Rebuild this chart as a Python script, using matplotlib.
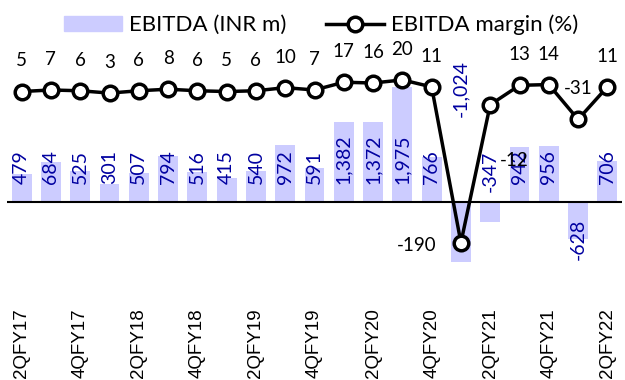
import matplotlib
matplotlib.use("Agg")
import matplotlib.pyplot as plt
from matplotlib.lines import Line2D
from matplotlib.patches import Patch

# quarterly data, 2QFY17 .. 2QFY22
quarters = ["2QFY17", "3QFY17", "4QFY17", "1QFY18", "2QFY18", "3QFY18", "4QFY18",
            "1QFY19", "2QFY19", "3QFY19", "4QFY19", "1QFY20", "2QFY20", "3QFY20",
            "4QFY20", "1QFY21", "2QFY21", "3QFY21", "4QFY21", "1QFY22", "2QFY22"]
ebitda = [479, 684, 525, 301, 507, 794, 516, 415, 540, 972, 591, 1382, 1372, 1975,
          766, -1024, -347, 942, 956, -628, 706]
margin = [5, 7, 6, 3, 6, 8, 6, 5, 6, 10, 7, 17, 16, 20, 11, -190, -12, 13, 14, -31, 11]

BAR_COLOR = "#CCCCFF"
LABEL_BLUE = "#0000A0"
NUM_FONT = ["Lato", "DejaVu Sans"]

fig = plt.figure(figsize=(6.25, 3.8), dpi=100)
# axes box in pixels: left 7, right 622, top 40, bottom 300
ax = fig.add_axes([7 / 625, 80 / 380, 615 / 625, 260 / 380])
ax2 = ax.twinx()

x = list(range(len(quarters)))
ax.bar(x, ebitda, width=0.68, color=BAR_COLOR, zorder=1)
ax.axhline(0, color="black", lw=1.5, zorder=2)
ax.set_xlim(-0.5, len(quarters) - 0.5)
ax.set_ylim(-1684, 2784)

ax2.plot(x, margin, color="black", lw=2.5, marker="o", ms=10.5,
         mfc="white", mec="black", mew=2.5, zorder=5)
ax2.set_ylim(-264, 71.5)

for a in (ax, ax2):
    for s in a.spines.values():
        s.set_visible(False)
    a.set_yticks([])
ax.set_zorder(ax2.get_zorder() - 1)
ax.patch.set_visible(False)

ax.set_xticks(x[::2])
ax.set_xticklabels(quarters[::2], rotation=90, fontsize=13.5,
                   family="Liberation Sans")
ax.tick_params(axis="x", length=0, pad=6)

# bar value labels (offsets in points from the zero line)
bar_offsets = {15: (0, 61, "bottom"), 16: (0, 7, "bottom"), 19: (0, -12, "top")}
for i, v in enumerate(ebitda):
    dx, dy, va = bar_offsets.get(i, (0, 13, "bottom"))
    ax.annotate(f"{v:,}", (i, 0), xytext=(dx, dy), textcoords="offset points",
                rotation=90, ha="center", va=va, color=LABEL_BLUE,
                fontsize=14, family=NUM_FONT, zorder=3)

# margin labels
margin_offsets = {15: (-32, -2), 16: (17, -40)}
for i, m in enumerate(margin):
    dx, dy = margin_offsets.get(i, (0, 22))
    ax2.annotate(f"{m}", (i, m), xytext=(dx, dy), textcoords="offset points",
                 ha="center", va="center", color="black", fontsize=13.5,
                 family=NUM_FONT, zorder=6)

handles = [Patch(color=BAR_COLOR),
           Line2D([], [], color="black", lw=2.5, marker="o", ms=10.5,
                  mfc="white", mec="black", mew=2.5)]
fig.legend(handles, ["EBITDA (INR m)", "EBITDA margin (%)"], ncol=2,
           loc="center", bbox_to_anchor=(321 / 625, 1 - 25 / 380), frameon=False,
           prop={"family": NUM_FONT, "size": 16}, handlelength=2.6,
           handleheight=0.7, columnspacing=1.8, handletextpad=0.3,
           borderpad=0)

fig.savefig("out.png", dpi=100)
